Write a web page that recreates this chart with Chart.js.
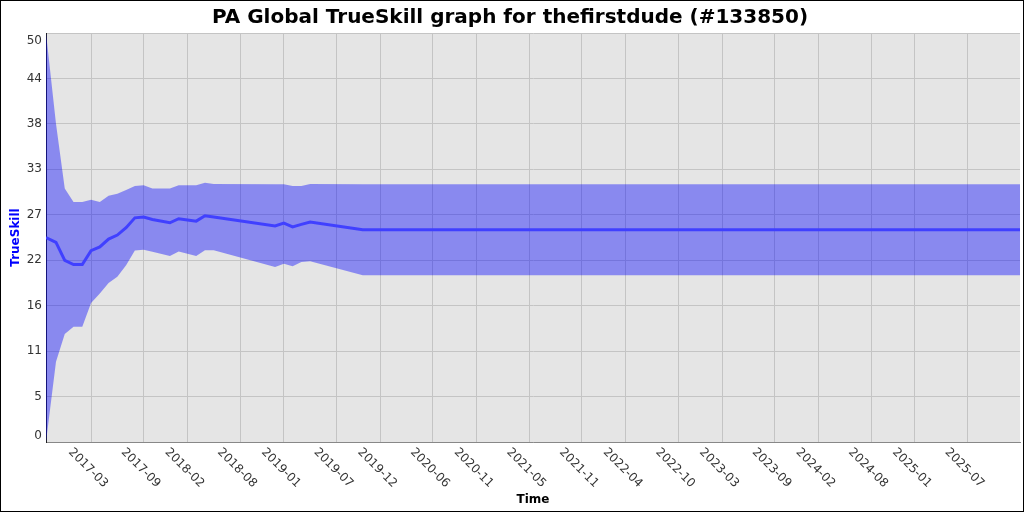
<!DOCTYPE html>
<html>
<head>
<meta charset="utf-8">
<script src="https://cdn.jsdelivr.net/npm/chart.js@4.4.1/dist/chart.umd.min.js"></script>
<style>
  html, body { margin: 0; padding: 0; background: #fff; }
  canvas { display: block; }
</style>
</head>
<body>
<canvas id="c" width="1024" height="512"></canvas>
<script>
// x values: months since 2017-01 (2017-01 = 0)
const xMonths = [-3.14, -2, -1, 0, 1, 2, 3, 4, 5, 6, 7, 8, 9, 11, 12, 13, 14, 15, 16, 23, 24, 25, 26, 27, 33, 108];
const meanVals  = [25.0, 24.4, 22.2, 21.7, 21.7, 23.4, 23.85, 24.8, 25.3, 26.2, 27.4, 27.5, 27.2, 26.8, 27.3, 27.15, 27.0, 27.65, 27.5, 26.4, 26.75, 26.3, 26.6, 26.9, 25.95, 25.95];
const upperVals = [50.0, 38.9, 31.0, 29.35, 29.35, 29.6, 29.35, 30.1, 30.35, 30.8, 31.3, 31.4, 31.0, 31.0, 31.4, 31.4, 31.4, 31.7, 31.55, 31.5, 31.5, 31.3, 31.3, 31.55, 31.5, 31.5];
const lowerVals = [0.0, 9.8, 13.2, 14.1, 14.1, 17.0, 18.15, 19.45, 20.2, 21.6, 23.4, 23.5, 23.25, 22.75, 23.3, 23.0, 22.75, 23.45, 23.45, 21.4, 21.8, 21.5, 22.0, 22.1, 20.4, 20.4];

const xTickMonths = [2, 8, 13, 19, 24, 30, 35, 41, 46, 52, 58, 63, 69, 74, 80, 85, 91, 96, 102];
const xTickLabels = ['2017-03','2017-09','2018-02','2018-08','2019-01','2019-07','2019-12','2020-06','2020-11','2021-05','2021-11','2022-04','2022-10','2023-03','2023-09','2024-02','2024-08','2025-01','2025-07'];
const yTickValues = [0, 5.5556, 11.1111, 16.6667, 22.2222, 27.7778, 33.3333, 38.8889, 44.4444, 50];
const yTickLabels = ['0','5','11','16','22','27','33','38','44','50'];

const X_MIN = -3.14, X_MAX = 108.0;
const FONT = '"DejaVu Sans", "Liberation Sans", sans-serif';

const toPts = vals => vals.map((v, i) => ({ x: xMonths[i], y: v }));

const deco = {
  id: 'deco',
  beforeDraw(chart) {
    const { ctx, chartArea: a } = chart;
    ctx.save();
    ctx.fillStyle = '#ffffff';
    ctx.fillRect(0, 0, chart.width, chart.height);
    ctx.fillStyle = '#e5e5e5';
    ctx.fillRect(a.left, a.top, a.right - a.left, a.bottom - a.top);
    ctx.restore();
  },
  afterDraw(chart) {
    const { ctx, chartArea: a } = chart;
    const xs = chart.scales.x;
    const ys = chart.scales.y;
    ctx.save();
    ctx.font = '12px ' + FONT;
    ctx.fillStyle = '#333333';
    // x tick labels, rotated 45° clockwise
    ctx.textAlign = 'center';
    ctx.textBaseline = 'middle';
    xTickMonths.forEach((m, i) => {
      const px = xs.getPixelForValue(m);
      ctx.save();
      ctx.translate(px - 3, a.bottom + 26);
      ctx.rotate(Math.PI / 4);
      ctx.fillText(xTickLabels[i], 0, 0);
      ctx.restore();
    });
    // y tick labels (end labels kept inside the plot height)
    ctx.textAlign = 'right';
    yTickValues.forEach((v, i) => {
      let py = ys.getPixelForValue(v);
      if (i === 0) py -= 6;
      if (i === yTickValues.length - 1) py += 8;
      ctx.fillText(yTickLabels[i], a.left - 4, py);
    });
    ctx.strokeStyle = '#000';
    ctx.lineWidth = 1;
    ctx.strokeRect(0.5, 0.5, chart.width - 1, chart.height - 1);
    ctx.restore();
  }
};

new Chart(document.getElementById('c'), {
  type: 'line',
  data: {
    datasets: [
      {
        label: 'TrueSkill',
        data: toPts(meanVals),
        borderColor: '#4040ff',
        borderWidth: 3,
        pointRadius: 0,
        fill: false,
        tension: 0
      },
      {
        label: 'upper',
        data: toPts(upperVals),
        borderColor: 'rgba(0,0,0,0)',
        borderWidth: 0,
        pointRadius: 0,
        backgroundColor: 'rgba(0,0,255,0.4)',
        fill: '+1',
        tension: 0
      },
      {
        label: 'lower',
        data: toPts(lowerVals),
        borderColor: 'rgba(0,0,0,0)',
        borderWidth: 0,
        pointRadius: 0,
        fill: false,
        tension: 0
      }
    ]
  },
  options: {
    responsive: false,
    animation: false,
    devicePixelRatio: 1,
    layout: { padding: { left: 0, right: 4, top: 0, bottom: 0 } },
    plugins: {
      legend: { display: false },
      tooltip: { enabled: false },
      title: {
        display: true,
        text: 'PA Global TrueSkill graph for thefirstdude (#133850)',
        color: '#000',
        font: { family: FONT, size: 20, weight: 'bold' },
        padding: { top: 6, bottom: 3 }
      }
    },
    scales: {
      x: {
        type: 'linear',
        min: X_MIN,
        max: X_MAX,
        afterBuildTicks: s => { s.ticks = xTickMonths.map(v => ({ value: v })); },
        afterFit: s => { s.height = 70; },
        ticks: { display: false },
        grid: { color: '#c4c4c4', lineWidth: 1, drawTicks: false },
        border: { color: '#888888', width: 1 },
        title: {
          display: true,
          text: 'Time',
          color: '#000',
          font: { family: FONT, size: 12, weight: 'bold' },
          padding: { top: 0, bottom: 5 }
        }
      },
      y: {
        type: 'linear',
        min: 0,
        max: 50,
        afterBuildTicks: s => { s.ticks = yTickValues.map(v => ({ value: v })); },
        afterFit: s => { s.width = 46; },
        ticks: { display: false },
        grid: { color: '#c4c4c4', lineWidth: 1, drawTicks: false },
        border: { color: '#222222', width: 1 },
        title: {
          display: true,
          text: 'TrueSkill',
          color: '#0000ff',
          font: { family: FONT, size: 12, weight: 'bold' },
          padding: { top: 9, bottom: 0 }
        }
      }
    }
  },
  plugins: [deco]
});
</script>
</body>
</html>
